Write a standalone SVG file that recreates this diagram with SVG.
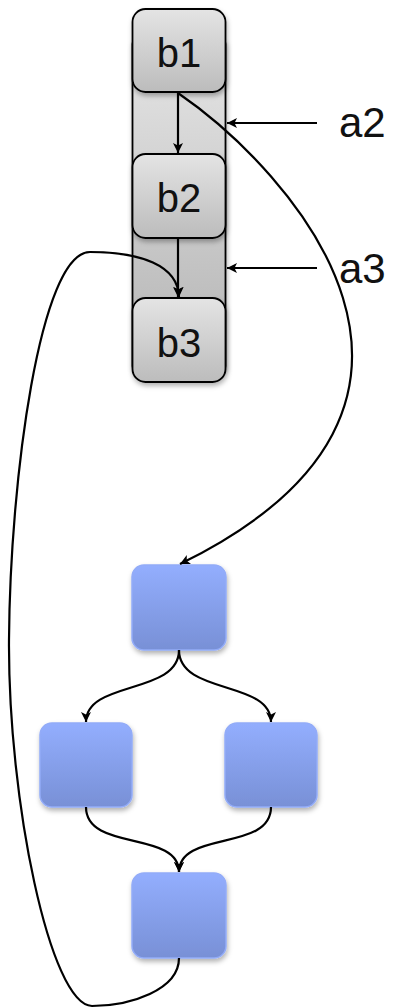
<svg xmlns="http://www.w3.org/2000/svg" width="393" height="1008" viewBox="0 0 393 1008">
<style>
.gray{fill:url(#gGray);stroke:#000;stroke-width:1.8}
.blue{fill:url(#gBlue);stroke:#93acf8;stroke-width:1.5}
.lbl{font-family:"Liberation Sans","DejaVu Sans",sans-serif;font-size:40px;fill:#111;text-anchor:middle}
.side{font-family:"Liberation Sans","DejaVu Sans",sans-serif;font-size:42px;fill:#111}
.edge{fill:none;stroke:#000;stroke-width:2.2}
</style>
<defs>
<linearGradient id="gGray" x1="0" y1="0" x2="0" y2="1">
<stop offset="0" stop-color="#e4e4e4"/><stop offset="1" stop-color="#bcbcbc"/>
</linearGradient>
<linearGradient id="gCont" x1="0" y1="0" x2="0" y2="1">
<stop offset="0" stop-color="#e6e6e6"/><stop offset="1" stop-color="#b3b3b3"/>
</linearGradient>
<linearGradient id="gBlue" x1="0" y1="0" x2="0" y2="1">
<stop offset="0" stop-color="#93aefe"/><stop offset="1" stop-color="#7890d6"/>
</linearGradient>
<filter id="sh" x="-20%" y="-20%" width="140%" height="150%">
<feDropShadow dx="1" dy="3" stdDeviation="2.5" flood-color="#000" flood-opacity="0.3"/>
</filter>
<marker id="arr" viewBox="0 0 10 10" refX="10" refY="5" markerWidth="10" markerHeight="10" markerUnits="userSpaceOnUse" orient="auto">
<path d="M0,0 L10,5 L0,10 L2.5,5 Z" fill="#000"/>
</marker>
</defs>
<g id="container">
<rect x="132.5" y="40" width="93" height="330" rx="4" fill="url(#gCont)" stroke="#000" stroke-width="1.8" filter="url(#sh)"/>
</g>
<g id="b1">
<rect class="gray" x="132.5" y="9" width="93" height="83" rx="13" filter="url(#sh)"/>
<text class="lbl" x="179" y="67">b1</text>
</g>
<g id="b2">
<rect class="gray" x="132.5" y="154" width="93" height="84" rx="13" filter="url(#sh)"/>
<text class="lbl" x="179" y="212">b2</text>
</g>
<g id="b3">
<rect class="gray" x="132.5" y="298" width="93" height="84" rx="13" filter="url(#sh)"/>
<text class="lbl" x="179" y="357">b3</text>
</g>
<g id="a2"><text class="side" x="339" y="137">a2</text></g>
<g id="a3"><text class="side" x="339" y="283">a3</text></g>
<g id="n1"><rect class="blue" x="132" y="565" width="94" height="85" rx="12" filter="url(#sh)"/></g>
<g id="n2"><rect class="blue" x="40" y="723" width="92" height="84" rx="12" filter="url(#sh)"/></g>
<g id="n3"><rect class="blue" x="225" y="723" width="92" height="84" rx="12" filter="url(#sh)"/></g>
<g id="n4"><rect class="blue" x="132" y="873" width="94" height="85" rx="12" filter="url(#sh)"/></g>
<g id="connectors">
<path class="edge" d="M178,92 L178,153" marker-end="url(#arr)" stroke-width="1.8"/>
<path class="edge" d="M178,238 L178,297" marker-end="url(#arr)"/>
<path class="edge" d="M317,123 L227,123" marker-end="url(#arr)"/>
<path class="edge" d="M317,268 L227,268" marker-end="url(#arr)"/>
<path class="edge" d="M178,93 C290,170 505,405 180,564" marker-end="url(#arr)"/>
<path class="edge" d="M179,958 C179,990 130,1006 92,1006 C50,1005 8,800 9,640 C10,480 40,252 90,252 C140,252 178,265 179,297" marker-end="url(#arr)"/>
<path class="edge" d="M179,650 C179,695 86,680 86,722" marker-end="url(#arr)"/>
<path class="edge" d="M179,650 C179,695 271,680 271,722" marker-end="url(#arr)"/>
<path class="edge" d="M86,807 C86,852 179,830 179,872" marker-end="url(#arr)"/>
<path class="edge" d="M271,807 C271,852 179,830 179,872" marker-end="url(#arr)"/>
</g>
</svg>
